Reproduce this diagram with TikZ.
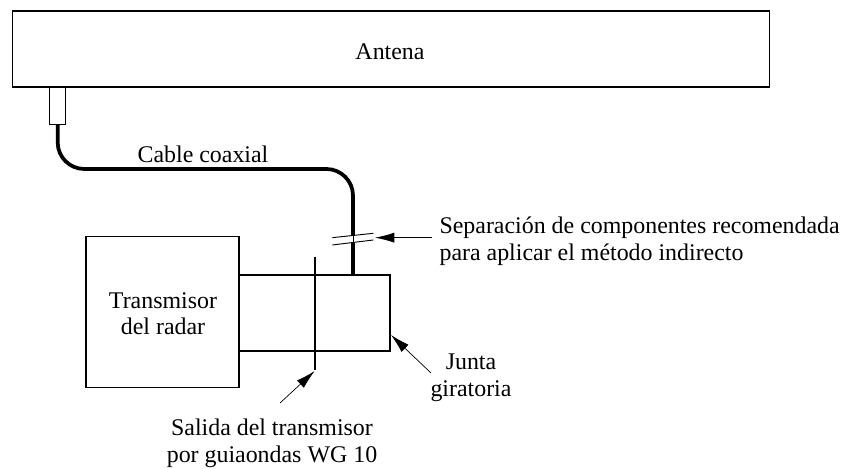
\documentclass[tikz,border=0pt]{standalone}
\usepackage{xcolor}
\usepackage{fontspec}
\setmainfont{Liberation Serif}
\usetikzlibrary{arrows.meta,positioning}
\tikzset{
  label text/.style={font=\fontsize{20.4}{22.9}\selectfont, align=center, inner sep=0pt},
  thin box/.style={draw, line width=0.9pt, inner sep=0pt},
  cable line/.style={line width=3.2pt},
  pointer/.style={line width=0.6pt, {Latex[length=0.58cm,width=0.3cm]}-},
}
\begin{document}
\begin{tikzpicture}
\useasboundingbox (0,0) rectangle (25.32,14.07);
\node (antena) at (11.72,12.6) [thin box, minimum width=22.71cm, minimum height=2.28cm] {};
\node (conector) at (1.73,10.9) [thin box, minimum width=0.47cm, minimum height=1.11cm] {};
\node (transmisor) at (4.875,4.7) [thin box, minimum width=4.59cm, minimum height=4.53cm] {};
\node (junta) at (9.435,4.68) [thin box, minimum width=4.53cm, minimum height=2.28cm] {};

\node (nombre) at (11.7,12.51) [label text] {Antena};
\node (radar) at (4.89,4.66) [label text] {Transmisor\\del radar};
\node (cable) at (6.09,9.45) [label text] {Cable coaxial};
\node (separacion) at (13.18,6.84) [label text, anchor=west, align=left] {Separaci\'on de componentes recomendada\\para aplicar el m\'etodo indirecto};
\node (giratoria) at (14.13,2.73) [label text] {Junta\\giratoria};
\node (salida) at (8.16,0.78) [label text] {Salida del transmisor\\por guiaondas WG 10};

\coordinate (codo1) at (1.73,9.0);
\coordinate (codo2) at (10.59,9.0);
\coordinate (corte1) at (10.59,7.02);
\coordinate (corte2) at (10.59,6.78);
\coordinate (guia1) at (9.45,6.36);
\coordinate (guia2) at (9.45,2.97);
% cable
\draw [cable line, rounded corners=0.8cm] (conector.south) -- (codo1) -- (codo2) -- (corte1);
\draw [cable line] (corte2) -- (junta.north -| corte2);
\draw [line width=1.4pt] (guia1) -- (guia2);

% break marks
\coordinate (marca1) at (9.97,6.94);
\coordinate (marca2) at (11.2,7.07);
\coordinate (marca3) at (9.97,6.72);
\coordinate (marca4) at (11.2,6.87);
\draw [line width=0.8pt] (marca1) -- (marca2);
\draw [line width=0.8pt] (marca3) -- (marca4);
\draw [line width=0.8pt] (corte1) -- (corte2);

% arrows
\coordinate (flecha1) at (11.25,6.94);
\coordinate (cola1) at (12.97,6.94);
\coordinate (flecha2) at (11.73,4.02);
\coordinate (cola2) at (12.93,2.88);
\coordinate (flecha3) at (9.44,2.94);
\coordinate (cola3) at (8.4,1.98);
\draw [pointer] (flecha1) -- (cola1);
\draw [pointer] (flecha2) -- (cola2);
\draw [pointer] (flecha3) -- (cola3);

\end{tikzpicture}
\end{document}
